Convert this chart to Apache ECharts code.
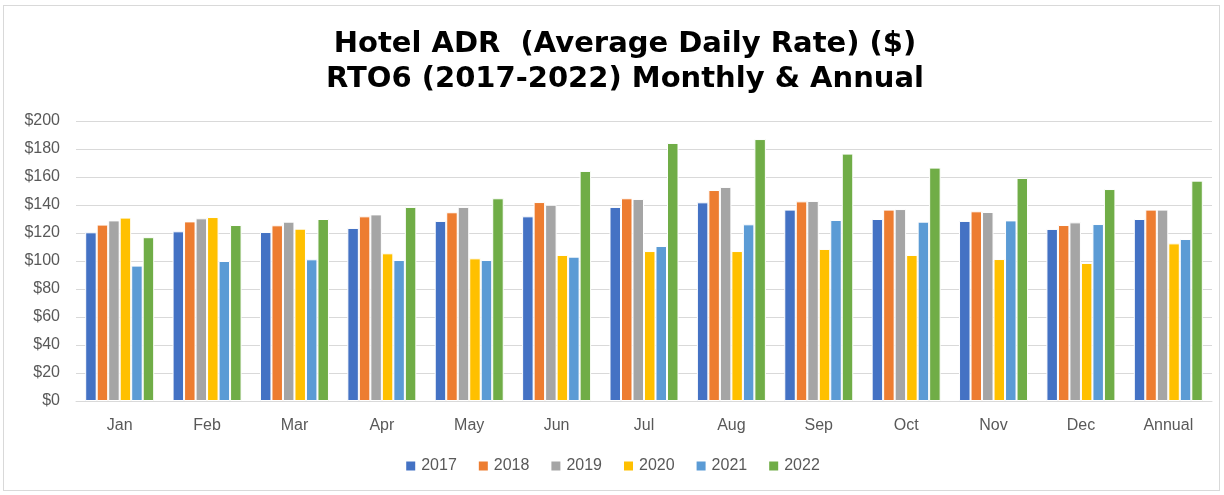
<!DOCTYPE html>
<html>
<head>
<meta charset="utf-8">
<script src="https://cdn.jsdelivr.net/npm/echarts@6/dist/echarts.min.js"></script>
<style>
  html, body { margin: 0; padding: 0; background: #fff; }
  #frame { position: absolute; left: 3px; top: 5px; width: 1217px; height: 486px; border: 1px solid #d9d9d9; box-sizing: border-box; }
  #chart { position: absolute; left: 0; top: 0; width: 1224px; height: 495px; }
</style>
</head>
<body>
<div id="frame"></div>
<div id="chart"></div>
<script>
// categories and series values
const categories = ['Jan', 'Feb', 'Mar', 'Apr', 'May', 'Jun', 'Jul', 'Aug', 'Sep', 'Oct', 'Nov', 'Dec', 'Annual'];
const years = ['2017', '2018', '2019', '2020', '2021', '2022'];
const adr2017 = [120.5, 121.2, 120.7, 123.6, 128.6, 131.9, 138.6, 141.9, 136.7, 130.0, 128.6, 122.9, 130.0];
const adr2018 = [126.0, 128.3, 125.5, 131.9, 134.8, 142.1, 144.8, 150.7, 142.6, 136.7, 135.5, 125.7, 136.7];
const adr2019 = [129.0, 130.5, 128.1, 133.3, 138.6, 140.2, 144.3, 152.9, 142.9, 137.1, 135.0, 127.6, 136.7];
const adr2020 = [131.0, 131.4, 123.1, 105.5, 101.9, 104.3, 107.1, 107.1, 108.6, 104.3, 101.4, 98.6, 112.6];
const adr2021 = [96.7, 100.0, 101.2, 100.7, 100.7, 103.1, 110.7, 126.2, 129.3, 128.1, 129.0, 126.4, 115.7];
const adr2022 = [117.0, 125.7, 130.0, 138.6, 144.8, 164.3, 184.3, 187.1, 176.7, 166.7, 159.3, 151.4, 157.4];
const colors = ['#4472c4', '#ed7d31', '#a5a5a5', '#ffc000', '#5b9bd5', '#70ad47'];

const seriesData = [adr2017, adr2018, adr2019, adr2020, adr2021, adr2022];

const chart = echarts.init(document.getElementById('chart'));

const option = {
  animation: false,
  color: colors,
  title: {
    text: 'Hotel ADR  (Average Daily Rate) ($)\nRTO6 (2017-2022) Monthly & Annual',
    left: 620,
    textAlign: 'center',
    top: 22,
    textStyle: {
      fontFamily: 'DejaVu Sans',
      fontWeight: 'bold',
      fontSize: 29,
      lineHeight: 35,
      color: '#000'
    }
  },
  legend: {
    bottom: 16,
    left: 'center',
    itemWidth: 11,
    itemHeight: 11,
    itemGap: 20,
    icon: 'rect',
    textStyle: { fontFamily: 'Liberation Sans', fontSize: 16, color: '#595959' },
    data: years
  },
  grid: {
    left: 76,
    right: 12,
    top: 121,
    bottom: 94,
    containLabel: false
  },
  xAxis: {
    type: 'category',
    data: categories,
    axisLine: { lineStyle: { color: '#d9d9d9', width: 1 } },
    axisTick: { show: false },
    axisLabel: { fontFamily: 'Liberation Sans', fontSize: 16, color: '#595959', margin: 17 }
  },
  yAxis: {
    type: 'value',
    min: 0,
    max: 200,
    interval: 20,
    axisLine: { show: false },
    axisTick: { show: false },
    splitLine: { lineStyle: { color: '#d9d9d9', width: 1 } },
    axisLabel: {
      fontFamily: 'Liberation Sans',
      fontSize: 16,
      color: '#595959',
      margin: 16,
      formatter: '${value}'
    }
  },
  series: years.map((y, i) => ({
    name: y,
    type: 'bar',
    data: seriesData[i],
    barWidth: 11.5,
    barGap: '0%',
    barCategoryGap: '20%',
    itemStyle: { color: colors[i], borderColor: '#fff', borderWidth: 1 }
  }))
};

chart.setOption(option);
</script>
</body>
</html>
